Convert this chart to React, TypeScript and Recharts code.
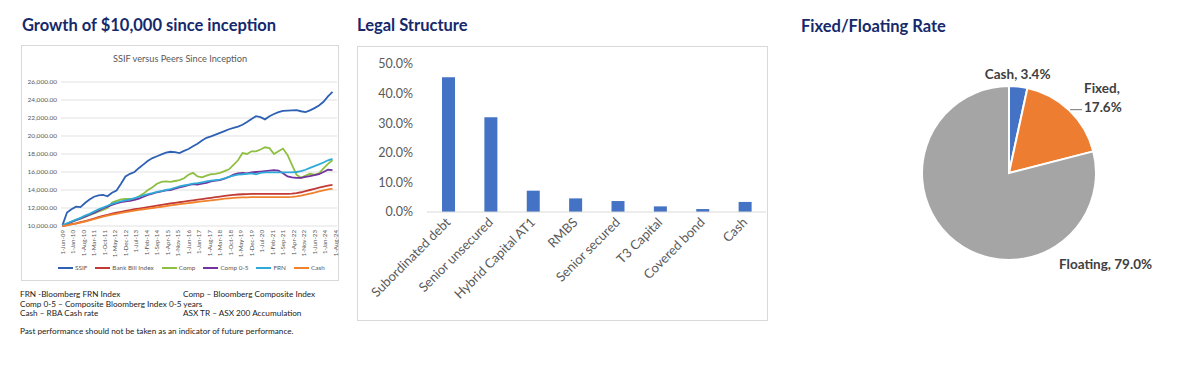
import React from 'react';
import { LineChart, Line, XAxis, YAxis, CartesianGrid, BarChart, Bar, PieChart, Pie, Cell } from 'recharts';

// growth of $10,000, quarterly readings (months since Jun-09)
const quarterMonths = Array.from({ length: 61 }, (_, i) => i * 3);

const dateLabels = [
  '1-Jun-09', '1-Jan-10', '1-Aug-10', '1-Mar-11', '1-Oct-11', '1-May-12', '1-Dec-12', '1-Jul-13', '1-Feb-14',
  '1-Sep-14', '1-Apr-15', '1-Nov-15', '1-Jun-16', '1-Jan-17', '1-Aug-17', '1-Mar-18', '1-Oct-18', '1-May-19',
  '1-Dec-19', '1-Jul-20', '1-Feb-21', '1-Sep-21', '1-Apr-22', '1-Nov-22', '1-Jun-23', '1-Jan-24', '1-Aug-24',
];
const dateTicks = dateLabels.map((_, i) => i * 7);
const valueTicks = [10000, 12000, 14000, 16000, 18000, 20000, 22000, 24000, 26000];

const ssif = [10100, 11500, 11850, 12150, 12100, 12550, 12950, 13250, 13400, 13450, 13300, 13700, 13950, 14700, 15500, 15800, 16000, 16450, 16850, 17250, 17550, 17750, 17950, 18150, 18250, 18200, 18100, 18350, 18550, 18850, 19150, 19500, 19800, 19950, 20150, 20350, 20550, 20750, 20900, 21050, 21250, 21550, 21900, 22200, 22100, 21850, 22200, 22450, 22650, 22800, 22830, 22850, 22870, 22750, 22650, 22850, 23100, 23400, 23800, 24400, 24900];
const bankBill = [10000, 10100, 10200, 10300, 10420, 10550, 10680, 10830, 10980, 11120, 11250, 11370, 11480, 11580, 11680, 11770, 11860, 11940, 12020, 12100, 12180, 12260, 12340, 12420, 12500, 12570, 12640, 12710, 12780, 12850, 12920, 12990, 13060, 13130, 13200, 13270, 13340, 13400, 13460, 13500, 13530, 13550, 13560, 13570, 13570, 13570, 13570, 13570, 13570, 13570, 13580, 13600, 13650, 13750, 13880, 14000, 14130, 14260, 14380, 14480, 14580];
const comp = [10000, 10250, 10450, 10650, 10800, 11000, 11200, 11400, 11600, 11800, 12000, 12600, 12800, 12950, 13000, 13000, 13000, 13300, 13600, 14000, 14300, 14700, 14900, 14950, 14900, 15000, 15100, 15300, 15700, 15900, 15500, 15400, 15600, 15750, 15800, 15900, 16100, 16300, 16800, 17300, 18100, 18000, 18300, 18300, 18500, 18750, 18650, 18000, 18300, 18600, 17900, 16800, 15700, 15350, 15600, 15800, 15700, 15850, 16400, 16900, 17300];
const comp05 = [10000, 10250, 10450, 10650, 10850, 11050, 11250, 11450, 11700, 11950, 12150, 12350, 12500, 12650, 12750, 12800, 12900, 13050, 13250, 13450, 13600, 13750, 13850, 13950, 14000, 14150, 14300, 14400, 14550, 14650, 14600, 14700, 14800, 14950, 15050, 15100, 15250, 15450, 15700, 15850, 15900, 15850, 15950, 16000, 16050, 16100, 16150, 16200, 16150, 15850, 15500, 15400, 15350, 15350, 15450, 15550, 15650, 15750, 16000, 16250, 16200];
const frn = [10100, 10300, 10500, 10700, 10900, 11150, 11350, 11600, 11850, 12050, 12250, 12450, 12600, 12750, 12850, 12950, 13100, 13250, 13400, 13550, 13650, 13780, 13880, 14000, 14100, 14250, 14400, 14500, 14600, 14700, 14760, 14850, 14950, 15030, 15100, 15150, 15300, 15450, 15600, 15700, 15750, 15800, 15850, 15750, 15900, 15950, 15950, 15950, 15950, 15950, 15950, 15950, 16000, 16100, 16250, 16450, 16650, 16850, 17050, 17300, 17450];
const cash = [10000, 10080, 10170, 10270, 10380, 10500, 10620, 10760, 10900, 11030, 11150, 11260, 11360, 11450, 11540, 11620, 11700, 11780, 11860, 11930, 12000, 12070, 12140, 12210, 12280, 12350, 12420, 12490, 12550, 12610, 12670, 12730, 12790, 12850, 12910, 12970, 13030, 13080, 13130, 13160, 13180, 13190, 13200, 13200, 13200, 13200, 13200, 13200, 13200, 13200, 13210, 13230, 13280, 13370, 13480, 13600, 13720, 13840, 13960, 14060, 14150];

// legal structure
const structureNames = ['Subordinated debt', 'Senior unsecured', 'Hybrid Capital AT1', 'RMBS', 'Senior secured', 'T3 Capital', 'Covered bond', 'Cash'];
const structureShares = [0.455, 0.32, 0.072, 0.046, 0.037, 0.019, 0.01, 0.034];
const shareTicks = [0, 0.1, 0.2, 0.3, 0.4, 0.5];

// fixed / floating
const rateNames = ['Cash', 'Fixed', 'Floating'];
const rateShares = [3.4, 17.6, 79.0];

const series = [
  { key: 'ssif', name: 'SSIF', color: '#2e60b3', values: ssif },
  { key: 'bankBill', name: 'Bank Bill Index', color: '#c23a36', values: bankBill },
  { key: 'comp', name: 'Comp', color: '#8fbf42', values: comp },
  { key: 'comp05', name: 'Comp 0-5', color: '#7232a0', values: comp05 },
  { key: 'frn', name: 'FRN', color: '#2eaad8', values: frn },
  { key: 'cash', name: 'Cash', color: '#f0822d', values: cash },
];

const growthData = quarterMonths.map((m, i) => {
  const row: Record<string, number> = { m };
  series.forEach((s) => { row[s.key] = s.values[i]; });
  return row;
});

const structureData = structureNames.map((name, i) => ({ name, share: structureShares[i] }));
const rateData = rateNames.map((name, i) => ({ name, value: rateShares[i] }));
const rateColors = ['#4472c4', '#ed7d31', '#a5a5a5'];

const NAVY = '#15296b';
const FONT = 'Lato, "Open Sans", sans-serif';

const DateTick = ({ x, y, payload }: any) => (
  <text x={x} y={y} transform={`rotate(-90 ${x} ${y})`} textAnchor="end" dy="0.35em" fontSize={6.2} fill="#595959">
    {dateLabels[Math.round(payload.value / 7)]}
  </text>
);

const CategoryTick = ({ x, y, payload }: any) => (
  <text x={x} y={y} transform={`rotate(-45 ${x} ${y})`} textAnchor="end" dy="0.35em" fontSize={13} fill="#595959">
    {payload.value}
  </text>
);

const RAD = Math.PI / 180;

const renderRateLabel = (props: any) => {
  const { cx, cy, midAngle, outerRadius, name, value } = props;
  const style = { fontSize: 13.5, fontWeight: 700, fill: '#404040', fontFamily: FONT };
  if (name === 'Cash') {
    const r = outerRadius + 13;
    const x = cx + r * Math.cos(-midAngle * RAD);
    const y = cy + r * Math.sin(-midAngle * RAD);
    return <text x={x - 2} y={y} textAnchor="middle" dominantBaseline="central" {...style}>{`${name}, ${value.toFixed(1)}%`}</text>;
  }
  if (name === 'Fixed') {
    const ex = cx + (outerRadius + 1) * Math.cos(-midAngle * RAD);
    const ey = cy + (outerRadius + 1) * Math.sin(-midAngle * RAD);
    return (
      <g>
        <line x1={ex} y1={ey} x2={cx + 73} y2={ey} stroke="#8c8c8c" strokeWidth={1.2} />
        <text x={cx + 75} y={cy - 85.5} dominantBaseline="central" {...style}>{`${name},`}</text>
        <text x={cx + 75} y={cy - 66.5} dominantBaseline="central" {...style}>{`${value.toFixed(1)}%`}</text>
      </g>
    );
  }
  return <text x={cx + 50} y={cy + 90.5} dominantBaseline="central" {...style}>{`${name}, ${value.toFixed(1)}%`}</text>;
};

const titleStyle: React.CSSProperties = {
  position: 'absolute', fontSize: 16.5, fontWeight: 700, color: NAVY, lineHeight: '18px', whiteSpace: 'nowrap',
};
const noteStyle: React.CSSProperties = {
  position: 'absolute', fontSize: 8.2, color: '#222', lineHeight: '10px', whiteSpace: 'nowrap',
};

const App: React.FC = () => {
  return (
    <div style={{ position: 'absolute', left: 0, top: 0, width: 1200, height: 365, background: '#fff', fontFamily: FONT, overflow: 'hidden' }}>
      {/* growth panel */}
      <div style={{ ...titleStyle, left: 22, top: 16 }}>Growth of $10,000 since inception</div>
      <div style={{ position: 'absolute', left: 21, top: 45, width: 318, height: 236, border: '1px solid #d9d9d9', boxSizing: 'border-box' }} />
      <div style={{ position: 'absolute', left: 21, top: 53, width: 318, textAlign: 'center', fontSize: 9.2, color: '#595959', lineHeight: '12px' }}>
        SSIF versus Peers Since Inception
      </div>
      <div style={{ position: 'absolute', left: 21, top: 45 }}>
        <LineChart width={318} height={235} data={growthData} margin={{ top: 37, right: 2, bottom: 24, left: 0 }}>
          <CartesianGrid vertical={false} stroke="#d9d9d9" strokeWidth={0.8} />
          <XAxis
            dataKey="m"
            type="number"
            domain={[-1, 183]}
            ticks={dateTicks}
            interval={0}
            tick={<DateTick />}
            height={30}
            axisLine={false}
            tickLine={false}
            tickSize={2}
            tickMargin={2}
          />
          <YAxis
            domain={[10000, 26000]}
            ticks={valueTicks}
            interval={0}
            width={40}
            axisLine={false}
            tickLine={false}
            tickSize={2}
            tickMargin={2}
            tick={{ fontSize: 6.5, fill: '#595959' }}
            tickFormatter={(v: number) => v.toLocaleString('en-US', { minimumFractionDigits: 2 })}
          />
          {series.map((s) => (
            <Line key={s.key} dataKey={s.key} name={s.name} stroke={s.color} strokeWidth={1.8} dot={false} type="linear" isAnimationActive={false} />
          ))}
        </LineChart>
      </div>
      <div style={{ position: 'absolute', left: 58, top: 263, display: 'flex', gap: 8, fontSize: 6.4, color: '#595959', lineHeight: '10px' }}>
        {series.map((s) => (
          <div key={s.key} style={{ display: 'flex', alignItems: 'center' }}>
            <span style={{ display: 'inline-block', width: 15, height: 2, background: s.color, marginRight: 2 }} />
            <span>{s.name}</span>
          </div>
        ))}
      </div>
      <div style={{ ...noteStyle, left: 20, top: 289 }}>FRN -Bloomberg FRN Index</div>
      <div style={{ ...noteStyle, left: 183, top: 289 }}>Comp – Bloomberg Composite Index</div>
      <div style={{ ...noteStyle, left: 20, top: 299 }}>Comp 0-5 – Composite Bloomberg Index 0-5 years</div>
      <div style={{ ...noteStyle, left: 20, top: 308 }}>Cash – RBA Cash rate</div>
      <div style={{ ...noteStyle, left: 183, top: 308 }}>ASX TR – ASX 200 Accumulation</div>
      <div style={{ ...noteStyle, left: 20, top: 326 }}>Past performance should not be taken as an indicator of future performance.</div>

      {/* legal structure panel */}
      <div style={{ ...titleStyle, left: 357, top: 16 }}>Legal Structure</div>
      <div style={{ position: 'absolute', left: 357, top: 46, width: 411, height: 275, border: '1px solid #d9d9d9', boxSizing: 'border-box' }} />
      <div style={{ position: 'absolute', left: 357, top: 46 }}>
        <BarChart width={411} height={275} data={structureData} margin={{ top: 18, right: 2, bottom: 0, left: 0 }}>
          <XAxis
            dataKey="name"
            interval={0}
            height={109}
            tick={<CategoryTick />}
            axisLine={{ stroke: '#d9d9d9' }}
            tickLine={false}
          />
          <YAxis
            domain={[0, 0.5]}
            ticks={shareTicks}
            interval={0}
            width={70}
            axisLine={false}
            tickLine={false}
            tickMargin={8}
            tick={{ fontSize: 12.5, fill: '#595959' }}
            tickFormatter={(v: number) => `${(v * 100).toFixed(1)}%`}
          />
          <Bar dataKey="share" fill="#4472c4" barSize={13} isAnimationActive={false} />
        </BarChart>
      </div>

      {/* fixed / floating panel */}
      <div style={{ ...titleStyle, left: 801, top: 17 }}>Fixed/Floating Rate</div>
      <div style={{ position: 'absolute', left: 800, top: 40 }}>
        <PieChart width={400} height={300}>
          <Pie
            data={rateData}
            dataKey="value"
            nameKey="name"
            cx={204}
            cy={128}
            outerRadius={87}
            startAngle={90}
            endAngle={-270}
            stroke="#fff"
            strokeWidth={2}
            label={renderRateLabel}
            labelLine={false}
            isAnimationActive={false}
          >
            {rateData.map((d, i) => (
              <Cell key={d.name} fill={rateColors[i]} />
            ))}
          </Pie>
        </PieChart>
      </div>
    </div>
  );
};

export default App;
